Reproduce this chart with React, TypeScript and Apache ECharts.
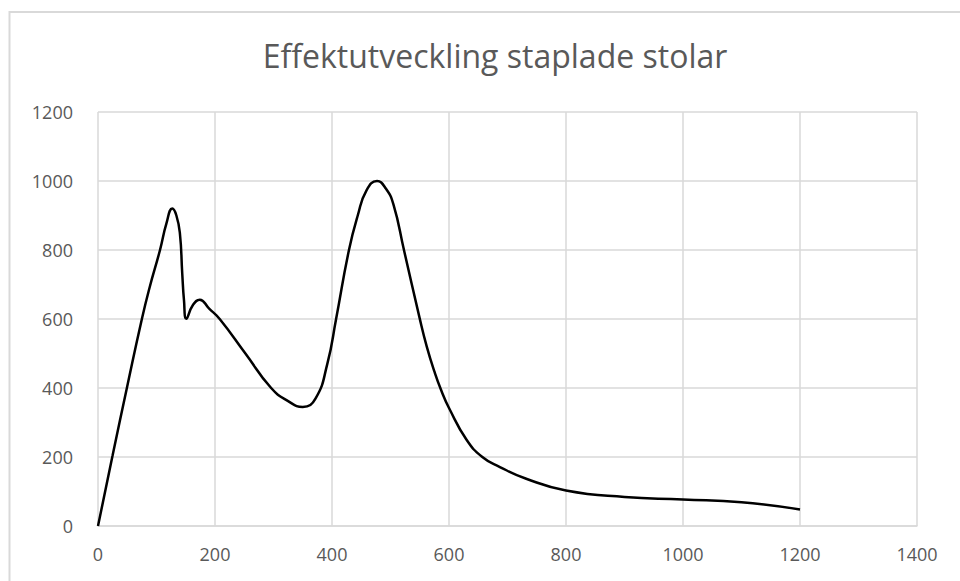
import React, { useEffect, useRef } from "react";
import * as echarts from "echarts";

const titleText = "Effektutveckling staplade stolar";
const xValues = [0, 25, 50, 75, 88, 106, 117, 127, 134, 140, 144, 147, 151, 162, 174, 190, 208, 252, 296, 325, 350, 372, 392, 407, 429, 444, 459, 477, 492, 505, 523, 550, 562, 575, 587, 600, 630, 657, 687, 732, 800, 900, 1000, 1100, 1200];
const yValues = [0, 205, 405, 600, 690, 800, 877, 920, 900, 848, 732, 654, 601, 640, 656, 630, 600, 500, 400, 362, 345, 370, 470, 600, 800, 900, 973, 1000, 978, 932, 800, 601, 520, 448, 392, 342, 250, 200, 171, 137, 103, 84, 77, 69, 48];
const xTicks = [0, 1400, 200];
const yTicks = [0, 1200, 200];

export default function App() {
  const ref = useRef<HTMLDivElement>(null);
  useEffect(() => {
    if (!ref.current) return;
    const chart = echarts.init(ref.current, undefined, { renderer: "svg" });
    const data = xValues.map((x, i) => [x, yValues[i]]);
    const font = "'Open Sans', 'Noto Sans', sans-serif";
    chart.setOption({
      animation: false,
      backgroundColor: "#ffffff",
      title: {
        text: titleText,
        left: 490,
        textAlign: "center",
        top: 34,
        textStyle: { fontFamily: font, fontSize: 32, fontWeight: "normal", color: "#595959" },
      },
      graphic: [
        {
          type: "rect",
          shape: { x: 9.5, y: 12, width: 1000, height: 700 },
          style: { fill: "none", stroke: "#d9d9d9", lineWidth: 2 },
          silent: true,
        },
      ],
      grid: { left: 98, right: 43, top: 112, bottom: 55 },
      xAxis: {
        type: "value",
        min: xTicks[0],
        max: xTicks[1],
        interval: xTicks[2],
        axisLine: { show: true, lineStyle: { color: "#d9d9d9", width: 1.5 } },
        axisTick: { show: false },
        axisLabel: {
          color: "#595959",
          fontFamily: font,
          fontSize: 18,
          margin: 19,
          formatter: (v: number) => String(v),
        },
        splitLine: { show: true, lineStyle: { color: "#d9d9d9", width: 1.5 } },
      },
      yAxis: {
        type: "value",
        min: yTicks[0],
        max: yTicks[1],
        interval: yTicks[2],
        axisLine: { show: false },
        axisTick: { show: false },
        axisLabel: {
          color: "#595959",
          fontFamily: font,
          fontSize: 18,
          margin: 25,
          formatter: (v: number) => String(v),
        },
        splitLine: { show: true, lineStyle: { color: "#d9d9d9", width: 1.5 } },
      },
      series: [
        {
          type: "line",
          data,
          smooth: 0.5,
          showSymbol: false,
          lineStyle: { color: "#000000", width: 2.5 },
          z: 5,
        },
      ],
    });
    return () => chart.dispose();
  }, []);
  return (
    <div
      ref={ref}
      style={{ position: "fixed", left: 0, top: 0, width: 960, height: 581 }}
    />
  );
}
